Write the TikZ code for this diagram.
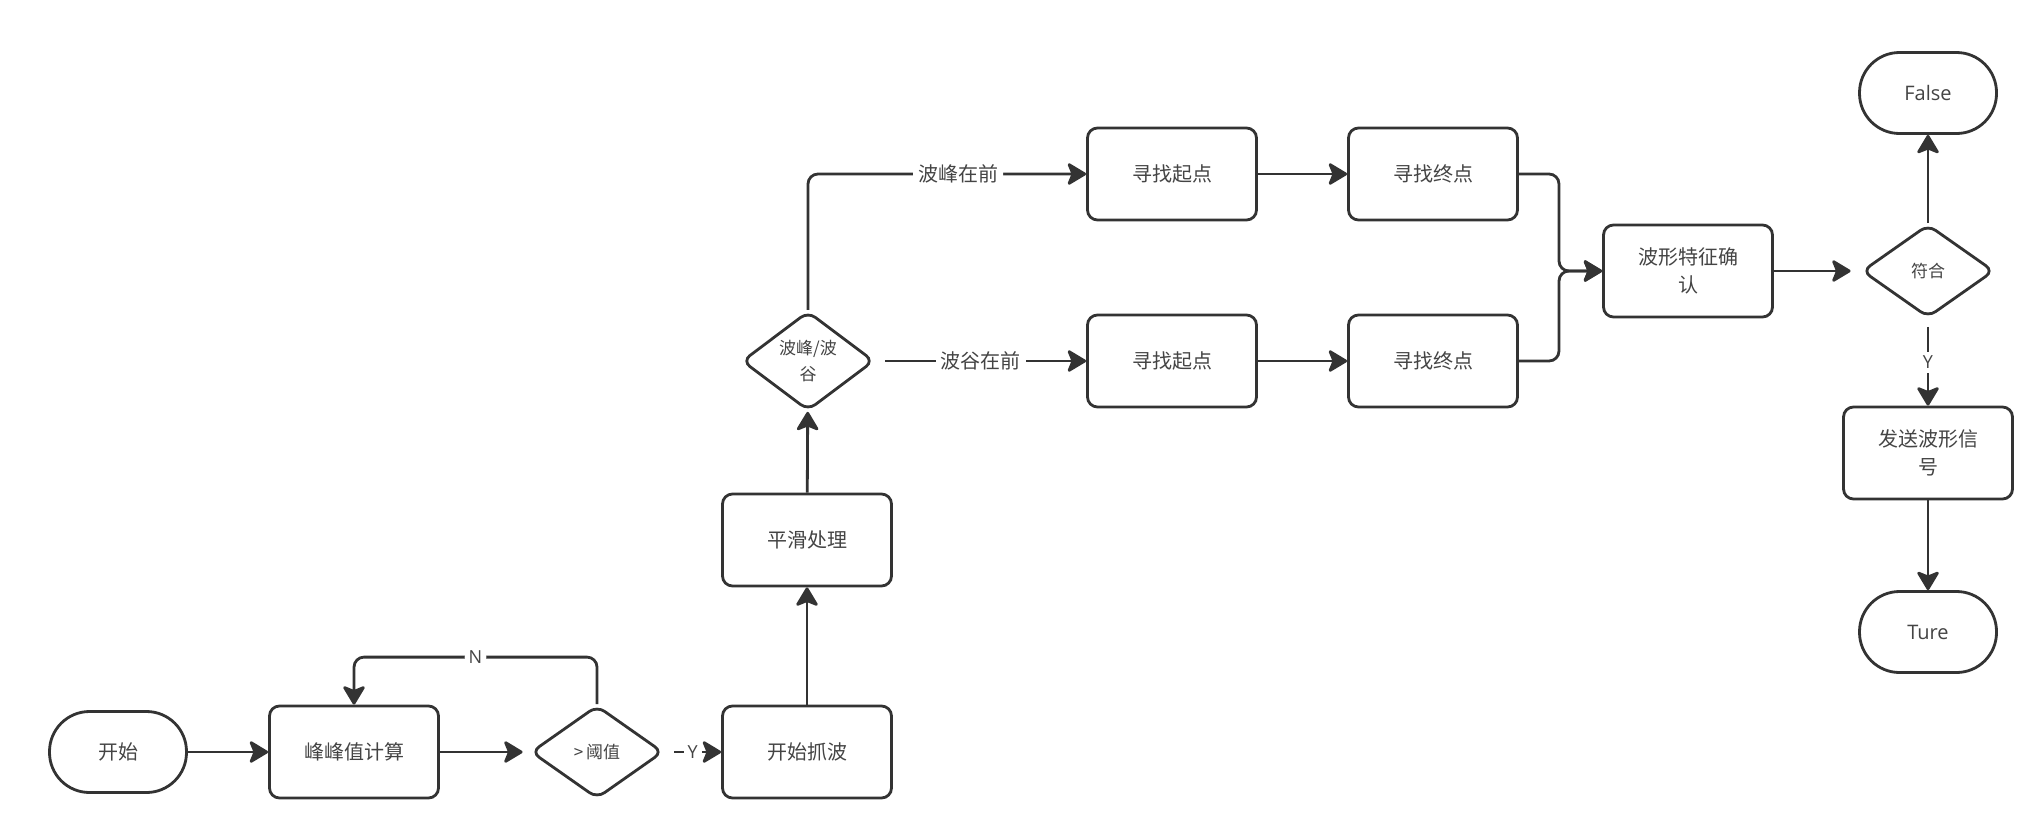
\documentclass[tikz,border=0pt]{standalone}
\usepackage{fontspec}
\setmainfont{Open Sans}
\newfontfamily\cjk{Noto Sans CJK SC}
\usetikzlibrary{arrows.meta,shapes.geometric}
\definecolor{ink}{HTML}{333333}
\definecolor{txt}{HTML}{444444}
\tikzset{
  base/.style={draw=ink,line width=2.8pt,text=txt,inner sep=0pt,align=center,font=\cjk\fontsize{20}{28}\selectfont},
  procbox/.style={base,rectangle,rounded corners=10pt,minimum width=169pt,minimum height=92pt},
  termbox/.style={base,rectangle,rounded corners=40pt,minimum width=137pt,minimum height=81pt,font=\fontsize{20}{26}\selectfont},
  decbox/.style={base,diamond,rounded corners=9pt,minimum width=132pt,minimum height=93pt,font=\cjk\fontsize{17}{26}\selectfont},
  conn/.style={draw=ink,line width=2.8pt,-{Stealth[length=21pt,width=25pt,inset=5pt,round]}},
  lbl/.style={fill=white,text=txt,inner sep=5pt,font=\cjk\fontsize{20}{24}\selectfont},
  lbllat/.style={fill=white,text=txt,inner sep=4pt,font=\fontsize{18}{22}\selectfont}
}
\begin{document}
\begin{tikzpicture}[x=1pt,y=-1pt]
\useasboundingbox[fill=white] (0,0) rectangle (2034,814);
\node[termbox] (start) at (118,752) {\cjk 开始};
\node[procbox] (peak) at (354,752) {峰峰值计算};
\node[decbox] (thr) at (597,752) {>\,阈值};
\node[procbox] (grab) at (807,752) {开始抓波};
\node[procbox] (smooth) at (807,540) {平滑处理};
\node[decbox] (pv) at (808,361) {波峰/波\\谷};
\node[procbox] (s1) at (1172,174) {寻找起点};
\node[procbox] (e1) at (1433,174) {寻找终点};
\node[procbox] (s2) at (1172,361) {寻找起点};
\node[procbox] (e2) at (1433,361) {寻找终点};
\node[procbox] (conf) at (1688,271) {波形特征确\\认};
\node[decbox] (fit) at (1928,271) {符合};
\node[termbox] (false) at (1928,93) {False};
\node[procbox] (send) at (1928,453) {发送波形信\\号};
\node[termbox] (ture) at (1928,632) {Ture};
\coordinate (m) at (1559,271);

\draw[conn] (start) -- (peak);
\draw[conn,shorten >=7pt] (peak) -- (thr);
\draw[conn,shorten <=10pt] (thr.east) -- node[lbllat]{Y} (grab.west);
\draw[conn,rounded corners=10pt] (thr.north) -- ++(0,-47) -| node[lbllat,pos=0.25]{N} (peak.north);
\draw[conn] (grab) -- (smooth);
\draw[conn] (smooth) -- (pv);
\draw[conn,rounded corners=10pt] (pv.north) |- node[lbl,pos=0.77]{波峰在前} (s1.west);
\draw[conn,shorten <=10pt] (pv.east) -- node[lbl]{波谷在前} (s2.west);
\draw[conn] (s1) -- (e1);
\draw[conn] (s2) -- (e2);
\draw[conn,rounded corners=10pt] (e1.east) -| (m) -- (conf.west);
\draw[conn,rounded corners=10pt] (e2.east) -| (m) -- (conf.west);
\draw[conn,shorten >=10pt] (conf) -- (fit);
\draw[conn] (fit.north) -- (false.south);
\draw[conn,shorten <=8pt] (fit.south) -- node[lbllat]{Y} (send.north);
\draw[conn] (send) -- (ture);
\end{tikzpicture}
\end{document}
